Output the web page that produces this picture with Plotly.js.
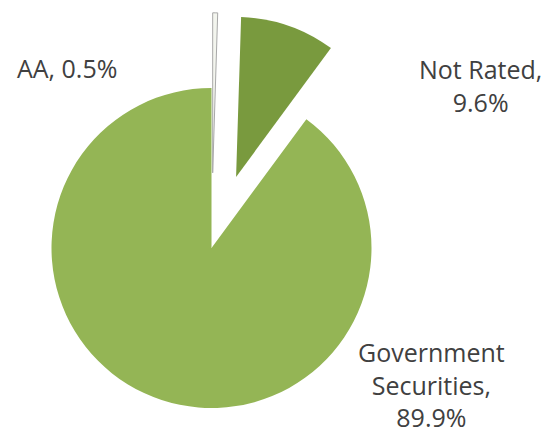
<!DOCTYPE html>
<html>
<head>
<meta charset="utf-8">
<script src="https://cdn.plot.ly/plotly-3.0.1.min.js"></script>
<style>
  html, body { margin: 0; padding: 0; overflow: hidden; width: 545px; height: 434px; background: #fff; }
  #chart { position: absolute; left: -40px; top: -30px; width: 620px; height: 520px; }
</style>
</head>
<body>
<div id="chart"></div>
<script>
// ---- data ----
const categories = ["AA", "Not Rated", "Government Securities"];
const values = [0.5, 9.6, 89.9];
const labelLines = [["AA, 0.5%"], ["Not Rated,", "9.6%"], ["Government", "Securities,", "89.9%"]];

// ---- styles / geometry ----
const colors = ["#f3f5ee", "#799a3e", "#94b555"];
const pulls = [0.47, 0.47, 0];
const DIVW = 620, DIVH = 520, OFFX = 40, OFFY = 30;
const cx = 211.5 + OFFX, cy = 248 + OFFY, r = 160, maxPull = 0.47;
const half = r * (1 + maxPull);
const domX = [(cx - half) / DIVW, (cx + half) / DIVW];
const domY = [(DIVH - (cy + half)) / DIVH, (DIVH - (cy - half)) / DIVH];

function px(x) { return (x + OFFX) / DIVW; }
function py(y) { return 1 - (y + OFFY) / DIVH; }

const labelPos = [[67, 68], [480, 86], [431, 384]];
const annotations = labelLines.map((lines, i) => ({
  xref: "paper", yref: "paper",
  x: px(labelPos[i][0]), y: py(labelPos[i][1]),
  xanchor: "center", yanchor: "middle",
  text: lines.join("<br>"),
  showarrow: false, align: "center",
  font: { family: "Open Sans, sans-serif", size: 25, color: "#404040" }
}));

const trace = {
  type: "pie",
  labels: categories,
  values: values,
  sort: false,
  direction: "clockwise",
  rotation: 0,
  pull: pulls,
  textinfo: "none",
  hoverinfo: "skip",
  domain: { x: domX, y: domY },
  marker: {
    colors: colors,
    line: { color: ["#a8a8a8", "rgba(0,0,0,0)", "rgba(0,0,0,0)"], width: [1, 0, 0] }
  }
};

Plotly.newPlot("chart", [trace], {
  width: DIVW, height: DIVH,
  margin: { l: 0, r: 0, t: 0, b: 0 },
  paper_bgcolor: "#ffffff",
  showlegend: false,
  annotations: annotations
}, { staticPlot: true, displayModeBar: false });
</script>
</body>
</html>
